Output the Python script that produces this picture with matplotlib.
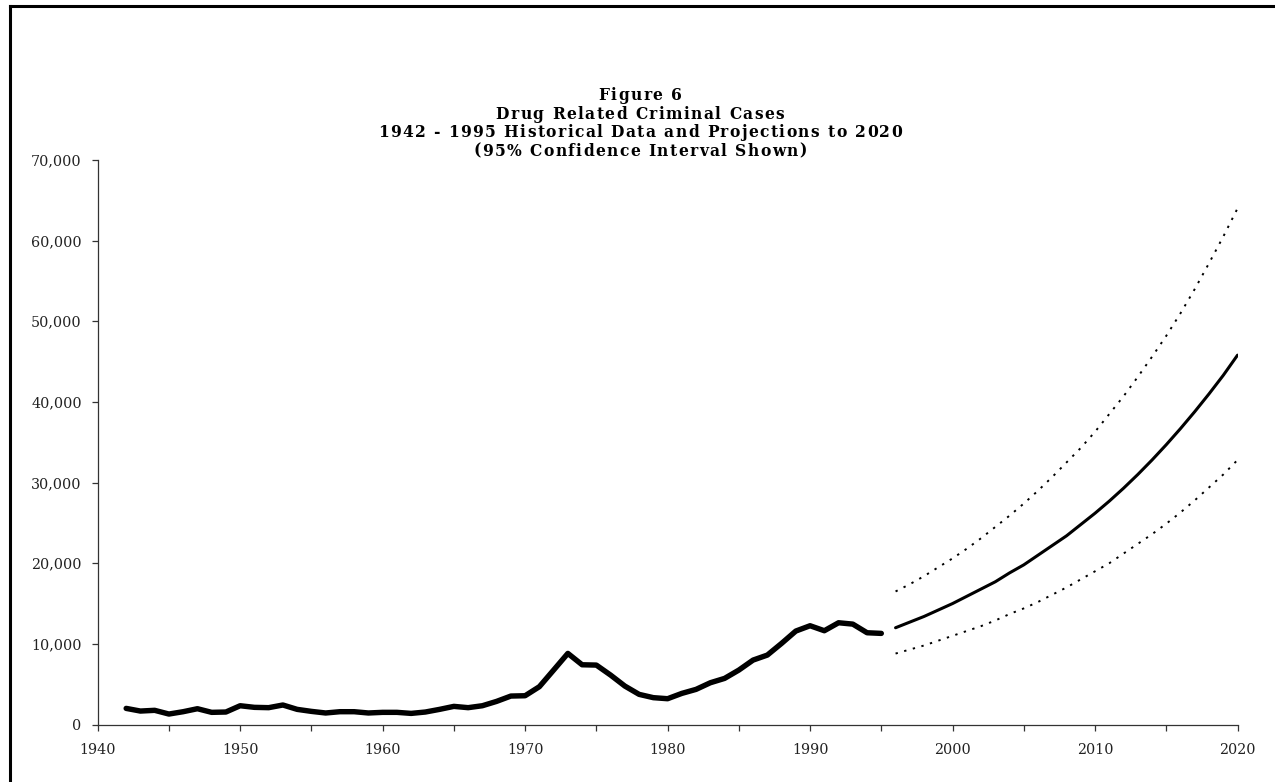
import matplotlib
matplotlib.use('Agg')
from matplotlib import pyplot as plt
from matplotlib.lines import Line2D
from matplotlib.ticker import FuncFormatter, MultipleLocator
from matplotlib.font_manager import FontProperties, findfont, get_font

# drug related criminal cases, 1942 - 1995
years = list(range(1942, 1996))
cases = [2000, 1670, 1760, 1300, 1590, 1960, 1510, 1550, 2330, 2130,
         2090, 2420, 1880, 1630, 1430, 1590, 1590, 1430, 1510, 1510,
         1380, 1550, 1880, 2250, 2090, 2330, 2870, 3530, 3570, 4690,
         6750, 8820, 7410, 7370, 6130, 4770, 3740, 3330, 3200, 3860,
         4360, 5180, 5720, 6750, 7990, 8610, 10060, 11590, 12250, 11630,
         12620, 12450, 11380, 11300]

# projections 1996 - 2020 with the 95% confidence band
proj_years = list(range(1996, 2021))
proj_mid = [12000, 12700, 13400, 14200, 15000, 15900, 16800, 17700, 18800, 19800,
            21000, 22200, 23400, 24800, 26200, 27700, 29300, 31000, 32800, 34700,
            36700, 38800, 41000, 43300, 45800]
proj_upper = [16500, 17400, 18400, 19500, 20600, 21800, 23100, 24500, 25900, 27400,
              29000, 30700, 32500, 34300, 36300, 38500, 40700, 43100, 45600, 48200,
              51000, 54000, 57200, 60500, 64000]
proj_lower = [8800, 9300, 9800, 10400, 11000, 11600, 12200, 12900, 13700, 14400,
              15200, 16100, 17000, 18000, 19000, 20000, 21200, 22400, 23600, 24900,
              26300, 27800, 29400, 31000, 32800]

title_lines = ['Figure 6',
               'Drug Related Criminal Cases',
               '1942 - 1995 Historical Data and Projections to 2020',
               '(95% Confidence Interval Shown)']

plt.rcParams['font.family'] = 'DejaVu Serif'


def spaced_text(fig, x_px, y_px, text, prop, tracking=1.3):
    # matplotlib has no letter spacing, so place the glyphs one at a time
    # using each glyph's advance width
    font = get_font(findfont(prop))
    font.set_size(prop.get_size_in_points(), fig.dpi)
    widths = []
    for ch in text:
        glyph = font.load_char(ord(ch))
        widths.append(glyph.linearHoriAdvance / 65536)
    total = sum(widths) + tracking * (len(text) - 1)
    x = x_px - total / 2
    H = fig.bbox.height
    W = fig.bbox.width
    for ch, w in zip(text, widths):
        if ch != ' ':
            fig.text(x / W, 1 - y_px / H, ch, ha='left', va='baseline',
                     fontproperties=prop)
        x += w + tracking


def draw_chart():
    fig = plt.figure(figsize=(12.75, 7.82), dpi=100)
    ax = fig.add_axes([0.0766, 0.0735, 0.894, 0.7219])

    ax.plot(years, cases, color='black', linewidth=3.9,
            solid_joinstyle='round', solid_capstyle='round')
    ax.plot(proj_years, proj_mid, color='black', linewidth=2.2, solid_capstyle='round')
    ax.plot(proj_years, proj_upper, color='black', linewidth=1.4, linestyle=(0, (1.2, 3.4)))
    ax.plot(proj_years, proj_lower, color='black', linewidth=1.4, linestyle=(0, (1.2, 3.4)))

    ax.set_xlim(1940, 2020)
    ax.set_ylim(0, 70000)
    ax.xaxis.set_major_locator(MultipleLocator(10))
    ax.xaxis.set_minor_locator(MultipleLocator(5))
    ax.yaxis.set_major_locator(MultipleLocator(10000))
    ax.yaxis.set_major_formatter(FuncFormatter(lambda v, p: f'{int(v):,}'))

    for side in ['top', 'right']:
        ax.spines[side].set_visible(False)
    for side in ['left', 'bottom']:
        ax.spines[side].set_linewidth(0.9)
        ax.spines[side].set_color('#333333')

    ax.tick_params(axis='both', which='both', direction='out', color='#333333',
                   width=0.9, labelcolor='#222222', labelsize=10.3)
    ax.tick_params(axis='x', which='major', length=4, pad=9)
    ax.tick_params(axis='x', which='minor', length=4)
    ax.tick_params(axis='y', length=4.5, pad=7)

    # four title lines (baselines), centred over the page
    prop = FontProperties(family='DejaVu Serif', weight='bold', size=11.2)
    for i, line in enumerate(title_lines):
        spaced_text(fig, 640, 100 + i * 18.6, line, prop, tracking=1.4)

    # page border along the left and top edges
    fig.add_artist(Line2D([10 / 1275, 10 / 1275], [-0.01, 1 - 6 / 782],
                          color='black', linewidth=2.2, transform=fig.transFigure))
    fig.add_artist(Line2D([10 / 1275, 1.01], [1 - 6 / 782, 1 - 6 / 782],
                          color='black', linewidth=2.2, transform=fig.transFigure))

    fig.savefig('out.png', dpi=100)


def main():
    draw_chart()


if __name__ == '__main__':
    main()
